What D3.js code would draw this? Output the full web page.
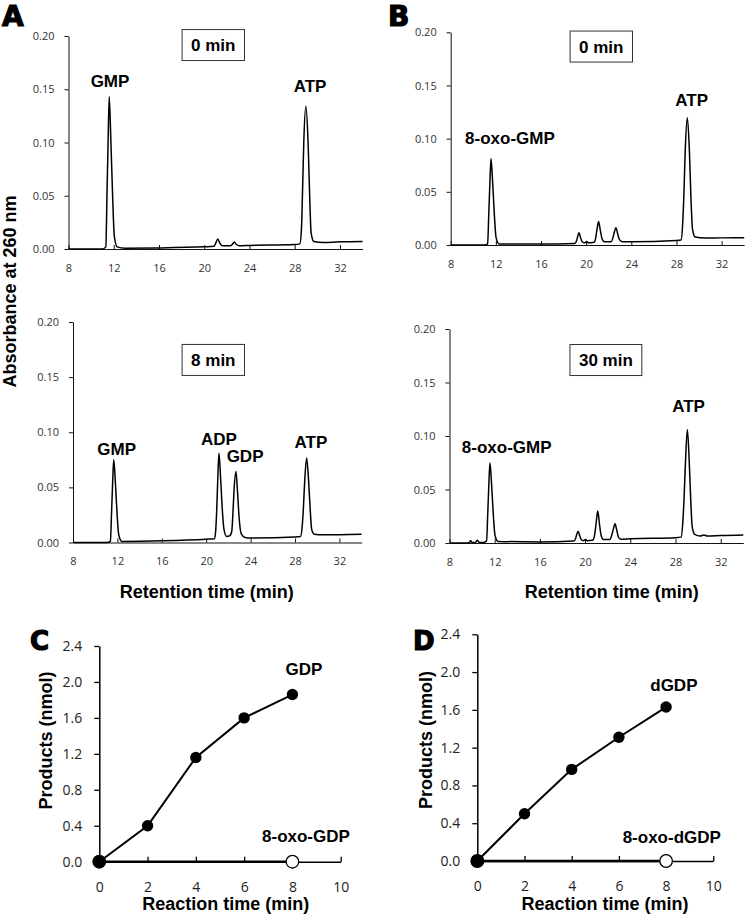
<!DOCTYPE html>
<html><head><meta charset="utf-8">
<script src="https://cdn.jsdelivr.net/npm/d3@7"></script>
<style>body{margin:0;background:#fff}svg{display:block}</style>
</head><body>
<svg id="fig" width="745" height="915"></svg>
<script>
// ---------- DATA ----------
const retentionTicks = [8, 12, 16, 20, 24, 28, 32];
const absorbanceTicks = [0, 0.05, 0.10, 0.15, 0.20];
const reactionTicks = [0, 2, 4, 6, 8, 10];
const productTicks = [0, 0.4, 0.8, 1.2, 1.6, 2.0, 2.4];

// chromatogram traces: [retention time (min), absorbance]
const traceA0 = [[8,0],[11.0,0],[11.3,0.002],[11.4,0.05],[11.5,0.10],[11.6,0.143],[11.75,0.10],[11.9,0.05],[12.05,0.012],[12.3,0.002],[13,0.0008],[16,0.001],[20,0.002],[20.85,0.0025],[21.0,0.005],[21.2,0.0095],[21.4,0.005],[21.6,0.003],[22.3,0.003],[22.5,0.0045],[22.65,0.0065],[22.85,0.0042],[23.1,0.003],[24,0.0033],[28,0.0042],[28.45,0.0048],[28.6,0.02],[28.68,0.05],[28.8,0.10],[28.98,0.134],[29.18,0.10],[29.32,0.05],[29.45,0.015],[29.7,0.007],[30.5,0.006],[32,0.0067],[34,0.007]];
const traceA8 = [[8,0],[11.05,0],[11.37,0.001],[11.47,0.026],[11.57,0.054],[11.67,0.075],[11.82,0.054],[11.97,0.026],[12.12,0.007],[12.4,0.001],[16,0.0015],[20,0.003],[20.75,0.0035],[20.85,0.01],[20.95,0.03],[21.05,0.06],[21.15,0.081],[21.3,0.058],[21.45,0.03],[21.6,0.012],[21.85,0.0055],[22.1,0.006],[22.3,0.01],[22.4,0.025],[22.5,0.046],[22.68,0.0645],[22.82,0.046],[22.97,0.022],[23.15,0.008],[23.5,0.0045],[24,0.004],[28,0.005],[28.5,0.0055],[28.65,0.015],[28.75,0.03],[28.87,0.055],[29.05,0.0766],[29.23,0.055],[29.37,0.03],[29.5,0.012],[29.75,0.0075],[30.5,0.007],[34,0.0075]];
const traceB0 = [[8,0],[11.0,0],[11.27,0.001],[11.37,0.028],[11.47,0.058],[11.57,0.081],[11.72,0.058],[11.87,0.028],[12.02,0.007],[12.3,0.001],[16,0.001],[19.0,0.0015],[19.15,0.004],[19.25,0.008],[19.36,0.0115],[19.5,0.007],[19.65,0.003],[19.85,0.002],[20.05,0.0033],[20.2,0.002],[20.7,0.0025],[20.85,0.007],[20.95,0.014],[21.1,0.022],[21.25,0.014],[21.4,0.006],[21.6,0.003],[22.2,0.003],[22.35,0.006],[22.47,0.011],[22.64,0.0163],[22.78,0.011],[22.95,0.005],[23.2,0.003],[24,0.003],[28,0.0042],[28.4,0.0047],[28.55,0.02],[28.65,0.045],[28.78,0.09],[28.96,0.1197],[29.14,0.09],[29.28,0.045],[29.42,0.015],[29.65,0.0075],[30.5,0.0065],[32,0.0067],[34,0.0068]];
const traceB30 = [[8,0],[9.6,0],[9.75,0.0005],[9.88,0.002],[10.0,0.0005],[10.3,0.0005],[10.46,0.0025],[10.6,0.0008],[11.0,0.0005],[11.28,0.002],[11.38,0.026],[11.48,0.054],[11.58,0.0749],[11.73,0.054],[11.88,0.026],[12.03,0.007],[12.3,0.0015],[16,0.001],[19.0,0.0018],[19.15,0.004],[19.26,0.008],[19.38,0.011],[19.52,0.007],[19.67,0.003],[19.85,0.0022],[20.03,0.0032],[20.2,0.0022],[20.7,0.0028],[20.85,0.008],[20.97,0.018],[21.12,0.0298],[21.27,0.018],[21.42,0.007],[21.62,0.0032],[22.2,0.0033],[22.35,0.007],[22.5,0.013],[22.65,0.018],[22.8,0.012],[22.97,0.005],[23.2,0.0035],[24,0.004],[28,0.005],[28.5,0.0055],[28.65,0.02],[28.75,0.04],[28.88,0.075],[29.05,0.106],[29.22,0.075],[29.35,0.04],[29.48,0.015],[29.7,0.008],[30.2,0.0065],[30.52,0.0075],[30.8,0.0065],[32,0.007],[34,0.0075]];

// peak labels (data coords of label centre / baseline)
const labelsA0 = [{text:"GMP", t:11.67, a:0.152}, {text:"ATP", t:29.35, a:0.1474}];
const labelsA8 = [{text:"GMP", t:11.94, a:0.0796}, {text:"ADP", t:21.15, a:0.088}, {text:"GDP", t:23.5, a:0.0727}, {text:"ATP", t:29.44, a:0.0857}];
const labelsB0 = [{text:"8-oxo-GMP", t:13.25, a:0.095}, {text:"ATP", t:29.35, a:0.1307}];
const labelsB30 = [{text:"8-oxo-GMP", t:13.06, a:0.0842}, {text:"ATP", t:29.16, a:0.1224}];
const boxA0 = {text:"0 min", t:20.8, a:0.1915};
const boxA8 = {text:"8 min", t:20.64, a:0.1656};
const boxB0 = {text:"0 min", t:21.34, a:0.1866};
const boxB30 = {text:"30 min", t:21.84, a:0.171};

// time courses
const reactionTimes = [0, 2, 4, 6, 8];
const gdpProducts = [0, 0.40, 1.16, 1.60, 1.86];
const dgdpProducts = [0, 0.50, 0.97, 1.31, 1.63];
const oxoTimes = [0, 8];
const oxoGdpProducts = [0, 0];
const oxoDgdpProducts = [0, 0];

// ---------- DRAW ----------
const svg = d3.select("#fig");
svg.append("rect").attr("width",745).attr("height",915).attr("fill","#fff");
const BOLD = "'Liberation Sans', Arial, sans-serif";
const TICKF = "'Open Sans', 'Noto Sans', sans-serif";

function chromPanel(cfg) {
  const x = d3.scaleLinear().domain([8, 34]).range(cfg.xr);
  const y = d3.scaleLinear().domain([0, 0.20]).range(cfg.yr);
  const g = svg.append("g");
  const ya = g.append("g").attr("transform", `translate(${cfg.xr[0]},0)`)
    .call(d3.axisLeft(y).tickValues(absorbanceTicks).tickSize(4).tickSizeOuter(0).tickPadding(10).tickFormat(d3.format(".2f")));
  const xa = g.append("g").attr("transform", `translate(0,${cfg.yr[0]})`)
    .call(d3.axisBottom(x).tickValues(retentionTicks).tickSizeInner(-4).tickSizeOuter(0).tickPadding(15).tickFormat(d3.format("d")));
  [ya, xa].forEach(a => {
    a.selectAll("path.domain").attr("stroke", "#111").attr("stroke-width", 1);
    a.selectAll(".tick line").attr("stroke", "#111");
    a.selectAll("text").attr("font-family", TICKF).attr("font-size", 11).attr("fill", "#333");
  });
  const line = d3.line().x(d => x(d[0])).y(d => y(d[1])).curve(d3.curveMonotoneX);
  g.append("path").datum(cfg.trace).attr("d", line)
    .attr("fill", "none").attr("stroke", "#000").attr("stroke-width", 1.5).attr("stroke-linejoin","round");
  g.selectAll("text.pk").data(cfg.labels).join("text").attr("class","pk")
    .attr("x", d => x(d.t)).attr("y", d => y(d.a))
    .attr("text-anchor", "middle").attr("font-family", BOLD).attr("font-weight", "bold")
    .attr("font-size", 17).attr("fill", "#000").text(d => d.text);
  const bg = g.append("g");
  const rect = bg.append("rect");
  const bt = bg.append("text").attr("x", x(cfg.box.t)).attr("y", y(cfg.box.a) + 6)
    .attr("text-anchor", "middle").attr("font-family", BOLD).attr("font-weight", "bold")
    .attr("font-size", 17).attr("fill", "#000").text(cfg.box.text);
  const w = bt.node().getComputedTextLength() + 18;
  rect.attr("x", x(cfg.box.t) - w / 2).attr("y", y(cfg.box.a) - 15.5)
    .attr("width", w).attr("height", 31).attr("fill", "#fff").attr("stroke", "#333").attr("stroke-width", 1);
}

chromPanel({xr:[68.5, 362.6], yr:[249, 36], trace:traceA0, labels:labelsA0, box:boxA0});
chromPanel({xr:[73, 361.6], yr:[542.5, 322], trace:traceA8, labels:labelsA8, box:boxA8});
chromPanel({xr:[450.7, 744.2], yr:[245, 32.3], trace:traceB0, labels:labelsB0, box:boxB0});
chromPanel({xr:[449.5, 743.3], yr:[543, 329], trace:traceB30, labels:labelsB30, box:boxB30});

function timePanel(cfg) {
  const x = d3.scaleLinear().domain([0, 10]).range(cfg.xr);
  const y = d3.scaleLinear().domain([0, 2.4]).range(cfg.yr);
  const g = svg.append("g");
  const ya = g.append("g").attr("transform", `translate(${cfg.xr[0]},0)`)
    .call(d3.axisLeft(y).tickValues(productTicks).tickSize(5).tickSizeOuter(0).tickPadding(12).tickFormat(d3.format(".1f")));
  const xa = g.append("g").attr("transform", `translate(0,${cfg.yr[0]})`)
    .call(d3.axisBottom(x).tickValues(reactionTicks).tickSizeInner(-5).tickSizeOuter(0).tickPadding(20).tickFormat(d3.format("d")));
  [ya, xa].forEach(a => {
    a.selectAll("path.domain").attr("stroke", "#000").attr("stroke-width", 1.5);
    a.selectAll(".tick line").attr("stroke", "#000").attr("stroke-width", 1.3);
    a.selectAll("text").attr("font-family", TICKF).attr("font-size", 14).attr("fill", "#222");
  });
  const line = d3.line().x(d => x(d[0])).y(d => y(d[1]));
  const oxo = cfg.oxoT.map((t, i) => [t, cfg.oxoV[i]]);
  const main = cfg.t.map((t, i) => [t, cfg.v[i]]);
  g.append("path").datum(oxo).attr("d", line).attr("fill","none").attr("stroke","#000").attr("stroke-width",2.5);
  g.selectAll("circle.o").data(oxo).join("circle").attr("class","o")
    .attr("cx", d => x(d[0])).attr("cy", d => y(d[1])).attr("r", 6.3)
    .attr("fill", "#fff").attr("stroke", "#000").attr("stroke-width", 1.3);
  g.append("path").datum(main).attr("d", line).attr("fill","none").attr("stroke","#000").attr("stroke-width",2);
  g.selectAll("circle.m").data(main).join("circle").attr("class","m")
    .attr("cx", d => x(d[0])).attr("cy", d => y(d[1])).attr("r", d => d[0] === 0 ? 6.5 : 5.7)
    .attr("fill", "#000");
  cfg.labels.forEach(l => {
    g.append("text").attr("x", x(l.t)).attr("y", y(l.v)).attr("text-anchor","middle")
      .attr("font-family", BOLD).attr("font-weight","bold").attr("font-size", 17).text(l.text);
  });
}

timePanel({xr:[99.3, 340.7], yr:[861.7, 646], t:reactionTimes, v:gdpProducts, oxoT:oxoTimes, oxoV:oxoGdpProducts,
  labels:[{text:"GDP", t:8.48, v:2.077}, {text:"8-oxo-GDP", t:8.56, v:0.2225}]});
timePanel({xr:[477.3, 713.3], yr:[861, 634.3], t:reactionTimes, v:dgdpProducts, oxoT:oxoTimes, oxoV:oxoDgdpProducts,
  labels:[{text:"dGDP", t:8.33, v:1.802}, {text:"8-oxo-dGDP", t:8.24, v:0.187}]});

function title(txt, x, y, rot) {
  svg.append("text").attr("transform", `translate(${x},${y})` + (rot ? " rotate(-90)" : ""))
    .attr("text-anchor", "middle").attr("font-family", BOLD).attr("font-weight", "bold")
    .attr("font-size", 18).attr("fill", "#000").text(txt);
}
title("Absorbance at 260 nm", 15.5, 291.5, true);
title("Retention time (min)", 206.7, 598, false);
title("Retention time (min)", 611.7, 597.5, false);
title("Products (nmol)", 52, 740.5, true);
title("Products (nmol)", 432, 740, true);
title("Reaction time (min)", 225.7, 910, false);
title("Reaction time (min)", 605, 910, false);

function letter(txt, x, y, size) {
  svg.append("text").attr("x", x).attr("y", y).attr("font-family", "'DejaVu Sans', sans-serif")
    .attr("font-weight", "bold").attr("font-size", size).attr("fill", "#000")
    .attr("stroke", "#000").attr("stroke-width", 1.2).text(txt);
}
letter("A", 2, 26, 28);
letter("B", 388, 26, 28);
letter("C", 30, 650, 26);
letter("D", 413, 650, 26);
</script>
</body></html>
